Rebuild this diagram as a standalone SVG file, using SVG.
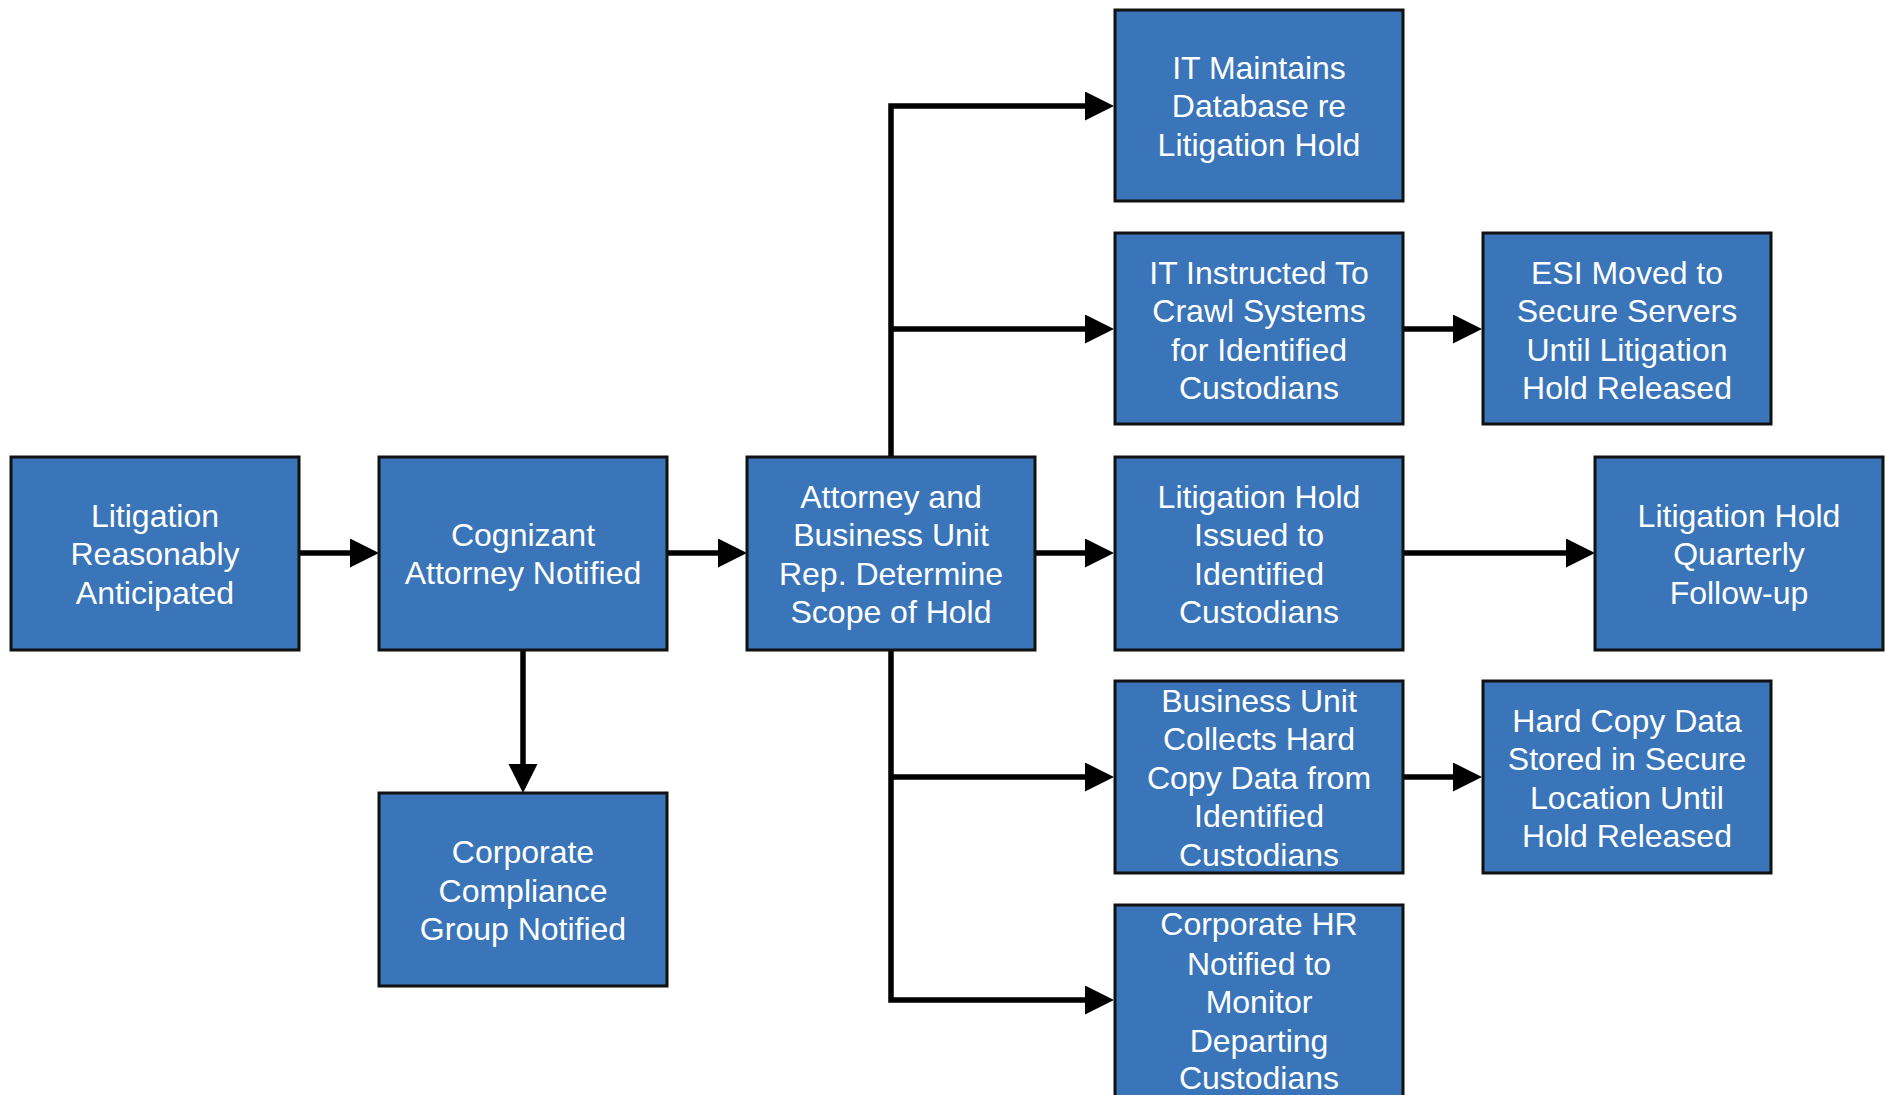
<svg xmlns="http://www.w3.org/2000/svg" width="1885" height="1095" viewBox="0 0 1885 1095">
<style>
.box{fill:#3A75BA;stroke:#111;stroke-width:3}
.t{font-family:"Liberation Sans",Arial,sans-serif;font-size:32px;fill:#fff;text-anchor:middle}
.c{fill:none;stroke:#000;stroke-width:5.5}
</style>
<defs>
<marker id="ah" markerUnits="userSpaceOnUse" markerWidth="30" markerHeight="30" refX="1" refY="14.5" orient="auto">
<path d="M0,0 L29,14.5 L0,29 z" fill="#000"/>
</marker>
</defs>
<rect width="1885" height="1095" fill="#fff"/>
<g id="connectors">
<path class="c" d="M299,553 H351" marker-end="url(#ah)"/>
<path class="c" d="M667,553 H719" marker-end="url(#ah)"/>
<path class="c" d="M523,650 V765" marker-end="url(#ah)"/>
<path class="c" d="M1035,553 H1086" marker-end="url(#ah)"/>
<path class="c" d="M891,457 V106 H1086" marker-end="url(#ah)"/>
<path class="c" d="M891,329 H1086" marker-end="url(#ah)"/>
<path class="c" d="M891,650 V1000 H1086" marker-end="url(#ah)"/>
<path class="c" d="M891,777 H1086" marker-end="url(#ah)"/>
<path class="c" d="M1403,329 H1454" marker-end="url(#ah)"/>
<path class="c" d="M1403,553 H1567" marker-end="url(#ah)"/>
<path class="c" d="M1403,777 H1454" marker-end="url(#ah)"/>
</g>
<g id="n1"><rect class="box" x="11" y="457" width="288" height="193"/>
<text class="t" x="155" y="527">Litigation</text><text class="t" x="155" y="565">Reasonably</text><text class="t" x="155" y="604">Anticipated</text></g>
<g id="n2"><rect class="box" x="379" y="457" width="288" height="193"/>
<text class="t" x="523" y="546">Cognizant</text><text class="t" x="523" y="584">Attorney Notified</text></g>
<g id="n3"><rect class="box" x="379" y="793" width="288" height="193"/>
<text class="t" x="523" y="863">Corporate</text><text class="t" x="523" y="902">Compliance</text><text class="t" x="523" y="940">Group Notified</text></g>
<g id="n4"><rect class="box" x="747" y="457" width="288" height="193"/>
<text class="t" x="891" y="508">Attorney and</text><text class="t" x="891" y="546">Business Unit</text><text class="t" x="891" y="585">Rep. Determine</text><text class="t" x="891" y="623">Scope of Hold</text></g>
<g id="n5"><rect class="box" x="1115" y="10" width="288" height="191"/>
<text class="t" x="1259" y="79">IT Maintains</text><text class="t" x="1259" y="117">Database re</text><text class="t" x="1259" y="156">Litigation Hold</text></g>
<g id="n6"><rect class="box" x="1115" y="233" width="288" height="191"/>
<text class="t" x="1259" y="284">IT Instructed To</text><text class="t" x="1259" y="322">Crawl Systems</text><text class="t" x="1259" y="361">for Identified</text><text class="t" x="1259" y="399">Custodians</text></g>
<g id="n7"><rect class="box" x="1115" y="457" width="288" height="193"/>
<text class="t" x="1259" y="508">Litigation Hold</text><text class="t" x="1259" y="546">Issued to</text><text class="t" x="1259" y="585">Identified</text><text class="t" x="1259" y="623">Custodians</text></g>
<g id="n8"><rect class="box" x="1115" y="681" width="288" height="192"/>
<text class="t" x="1259" y="712">Business Unit</text><text class="t" x="1259" y="750">Collects Hard</text><text class="t" x="1259" y="789">Copy Data from</text><text class="t" x="1259" y="827">Identified</text><text class="t" x="1259" y="866">Custodians</text></g>
<g id="n9"><rect class="box" x="1115" y="905" width="288" height="200"/>
<text class="t" x="1259" y="935">Corporate HR</text><text class="t" x="1259" y="975">Notified to</text><text class="t" x="1259" y="1013">Monitor</text><text class="t" x="1259" y="1052">Departing</text><text class="t" x="1259" y="1089">Custodians</text></g>
<g id="n10"><rect class="box" x="1483" y="233" width="288" height="191"/>
<text class="t" x="1627" y="284">ESI Moved to</text><text class="t" x="1627" y="322">Secure Servers</text><text class="t" x="1627" y="361">Until Litigation</text><text class="t" x="1627" y="399">Hold Released</text></g>
<g id="n11"><rect class="box" x="1595" y="457" width="288" height="193"/>
<text class="t" x="1739" y="527">Litigation Hold</text><text class="t" x="1739" y="565">Quarterly</text><text class="t" x="1739" y="604">Follow-up</text></g>
<g id="n12"><rect class="box" x="1483" y="681" width="288" height="192"/>
<text class="t" x="1627" y="732">Hard Copy Data</text><text class="t" x="1627" y="770">Stored in Secure</text><text class="t" x="1627" y="809">Location Until</text><text class="t" x="1627" y="847">Hold Released</text></g>
</svg>
